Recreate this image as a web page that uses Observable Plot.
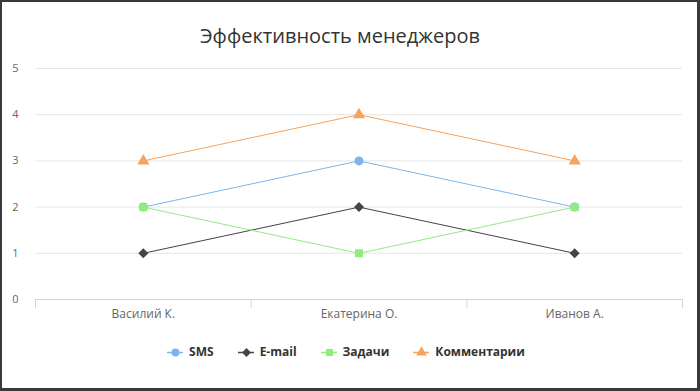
<!DOCTYPE html>
<html><head><meta charset="utf-8">
<script src="https://cdn.jsdelivr.net/npm/d3@7"></script>
<script src="https://cdn.jsdelivr.net/npm/@observablehq/plot@0.6"></script>
<style>
html,body{margin:0;padding:0;background:#fff;}
body{width:700px;height:391px;position:relative;overflow:hidden;font-family:"Open Sans",sans-serif;}
#frame{position:absolute;left:0;top:0;width:700px;height:391px;box-sizing:border-box;border:2px solid #3a3a3a;border-right-width:3px;border-bottom-width:3px;pointer-events:none;}
#title{position:absolute;left:0;width:680px;top:22px;text-align:center;font-size:20px;color:#333;line-height:28px;}
#chart{position:absolute;left:0;top:50px;}
#legend{position:absolute;left:0;width:692px;top:343px;display:flex;justify-content:center;gap:24px;font-size:12px;font-weight:bold;color:#333;}
.item{display:flex;align-items:center;gap:6px;}
</style></head>
<body>
<div id="title">Эффективность менеджеров</div>
<div id="chart"></div>
<div id="legend"></div>
<div id="frame"></div>
<script>
const categories = ["Василий К.", "Екатерина О.", "Иванов А."];
const seriesNames = ["SMS", "E-mail", "Задачи", "Комментарии"];
const smsValues = [2, 3, 2];
const emailValues = [1, 2, 1];
const taskValues = [2, 1, 2];
const commentValues = [3, 4, 3];
const yTicks = [0, 1, 2, 3, 4, 5];

const colors = ["#7cb5ec", "#434348", "#90ed7d", "#f7a35c"];
const symbols = ["circle", "diamond2", "square", "triangle"];
const allValues = [smsValues, emailValues, taskValues, commentValues];

const data = [];
seriesNames.forEach((s, si) => {
  allValues[si].forEach((v, ci) => data.push({series: s, cat: categories[ci], idx: ci + 0.5, value: v}));
});

const chart = Plot.plot({
  width: 700,
  height: 280,
  marginLeft: 35,
  marginRight: 18,
  marginTop: 18,
  marginBottom: 31,
  style: {fontFamily: "'Open Sans', sans-serif", background: "transparent"},
  x: {domain: [0, categories.length], axis: null, label: null},
  y: {domain: [0, 5], axis: null, label: null},
  color: {domain: seriesNames, range: colors},
  symbol: {domain: seriesNames, range: symbols},
  marks: [
    Plot.gridY(yTicks, {stroke: "#e6e6e6", strokeOpacity: 1}),
    Plot.axisY(yTicks, {tickSize: 0, tickPadding: 17, fontSize: 11, fill: "#666", textAnchor: "end", label: null}),
    Plot.ruleY([0], {stroke: "#ccd6eb", strokeWidth: 1}),
    Plot.axisX(d3.range(categories.length + 1), {tickSize: 9, tickFormat: () => "", stroke: "#ccd6eb", strokeOpacity: 1, label: null}),
    Plot.axisX(categories.map((c, i) => i + 0.5), {tickSize: 0, tickPadding: 10, fontSize: 12, fill: "#666", tickFormat: (d) => categories[Math.floor(d)], label: null}),
    Plot.line(data, {x: "idx", y: "value", z: "series", stroke: "series", strokeWidth: 1}),
    Plot.dot(data, {x: "idx", y: "value", fill: "series", symbol: "series", r: 4.5, stroke: "none"})
  ]
});
document.getElementById("chart").appendChild(chart);

const legend = document.getElementById("legend");
seriesNames.forEach((s, i) => {
  const item = document.createElement("div");
  item.className = "item";
  const sw = Plot.plot({
    width: 16, height: 12, margin: 0,
    x: {domain: [0, 1], axis: null}, y: {domain: [0, 1], axis: null},
    style: {background: "transparent"},
    marks: [
      Plot.ruleY([0.5], {stroke: colors[i], strokeWidth: 1.5}),
      Plot.dot([0], {x: () => 0.5, y: () => 0.5, fill: colors[i], symbol: symbols[i], r: 4})
    ]
  });
  item.appendChild(sw);
  const t = document.createElement("span");
  t.textContent = s;
  item.appendChild(t);
  legend.appendChild(item);
});
</script>
</body></html>
